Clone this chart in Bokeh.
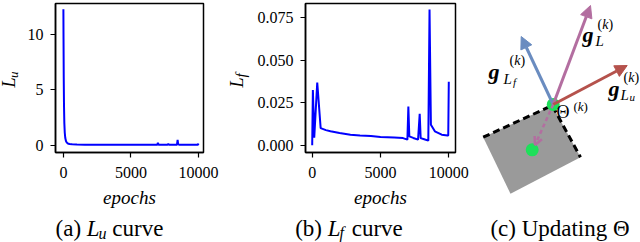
from math import pi
from bokeh.plotting import figure
from bokeh.layouts import row, column
from bokeh.models import Range1d, FixedTicker, Label, Arrow, NormalHead, OpenHead
from bokeh.embed import file_html
from bokeh.resources import INLINE

# ---------------- data ----------------
u_epochs = [0, 10, 25, 45, 70, 100, 140, 190, 250, 330, 450, 650, 1000, 1600, 2500,
            3500, 4500, 5500, 6500, 6950, 6990, 7040, 7700, 7760, 7820, 8400, 8450,
            8490, 8560, 9000, 9500, 9950, 10000]
u_loss = [12.3, 9.6, 6.2, 3.6, 2.0, 1.15, 0.65, 0.38, 0.24, 0.16, 0.11, 0.08, 0.06,
          0.05, 0.045, 0.04, 0.04, 0.035, 0.035, 0.035, 0.22, 0.05, 0.035, 0.12, 0.035,
          0.035, 0.48, 0.10, 0.045, 0.04, 0.04, 0.04, 0.15]

f_epochs = [0, 50, 150, 370, 620, 1000, 1340, 2000, 2800, 3500, 4300, 5000, 6000,
            6650, 6970, 7040, 7110, 7400, 7750, 7870, 7940, 8200, 8500, 8590, 8690,
            8980, 9480, 9920, 9960, 10000]
f_loss = [0.0, 0.0325, 0.0045, 0.0368, 0.0101, 0.0089, 0.0082, 0.0072, 0.0062, 0.0058,
          0.0054, 0.0049, 0.0045, 0.0042, 0.0033, 0.0228, 0.0052, 0.0043, 0.0033,
          0.0185, 0.0042, 0.0035, 0.0027, 0.0798, 0.0121, 0.0082, 0.0062, 0.0057,
          0.0058, 0.0374]

x_ticks = [0, 5000, 10000]
x_tick_labels = ["0", "5000", "10000"]
u_ticks = [0, 5, 10]
u_tick_labels = ["0", "5", "10"]
f_ticks = [0, 0.025, 0.05, 0.075]
f_tick_labels = ["0.000", "0.025", "0.050", "0.075"]
x_label = "epochs"

# schematic geometry of panel (c), page pixels
theta_pt = (552.7, 104.0)
next_pt = (531.7, 149.3)
dash_end = (534.5, 144.5)
tip_Lf = (520.7, 36.0)
tip_L = (590.0, 5.0)
tip_Lu = (626.7, 65.0)
rect_x = [482.7, 551.7, 580.0, 510.0]
rect_y = [136.7, 105.0, 156.7, 193.3]

BLUE = "#0000ff"
C_LF = "#6a8cc0"
C_L = "#b36ea0"
C_LU = "#b5524c"
GREEN = "#1ee05a"
GRAY = "#9a9a9a"
FONT = "Liberation Serif"

TOP_H, CAP_H = 210, 32
LA_W, FA_W, LB_W, FB_W, FC_W = 24, 198, 28, 220, 170
FB_X0 = LA_W + FA_W + LB_W          # 250
FC_X0 = FB_X0 + FB_W                # 470
H = TOP_H + CAP_H                   # 242
CAP_BASE = 233
BASE_SHIFT = 0.2                    # baseline correction, in em

ROMAN_W = {"(": .333, ")": .333, "a": .444, "b": .5, "c": .444, " ": .25, "u": .5,
           "r": .333, "v": .5, "e": .444, "U": .722, "p": .5, "d": .5, "t": .278,
           "i": .278, "n": .5, "g": .5, "Θ": .722}
ITAL_W = {"L": .556, "u": .5, "f": .278, "k": .444, "g": .5}


def adv(text, style, size):
    tbl = ITAL_W if "italic" in style else ROMAN_W
    return sum(tbl.get(ch, 0.5) for ch in text) * size


def lab(p, x, y, text, style="normal", size=16, angle=0):
    if angle:
        x -= BASE_SHIFT * size
    else:
        y -= BASE_SHIFT * size
    p.add_layout(Label(x=x, y=y, x_units="canvas", y_units="canvas", text=text,
                       text_font=FONT, text_font_style=style,
                       text_font_size=f"{size}px", text_color="black",
                       text_align="left", text_baseline="alphabetic", angle=angle))


def compose(p, x, y, pieces, center=False):
    total = sum(adv(t, s, z) + k for t, s, z, dy, k in pieces)
    cx = x - total / 2 if center else x
    for t, s, z, dy, k in pieces:
        lead = len(t) - len(t.lstrip(" "))
        body = t.strip(" ")
        if body:
            lab(p, cx + adv(" " * lead, s, z), y + dy, body, s, z)
        cx += adv(t, s, z) + k


def no_align(p):
    try:
        p.frame_align = False
    except Exception:
        pass


def blank(width, height):
    p = figure(width=width, height=height, output_backend="svg", toolbar_location=None,
               x_range=Range1d(0, width), y_range=Range1d(height, 0),
               x_axis_type=None, y_axis_type=None,
               min_border_left=0, min_border_right=0, min_border_top=0,
               min_border_bottom=0)
    p.grid.visible = False
    p.outline_line_color = None
    no_align(p)
    return p


def style_axes(p):
    no_align(p)
    p.grid.visible = False
    p.outline_line_color = "black"
    p.outline_line_width = 1.5
    for ax in (p.xaxis[0], p.yaxis[0]):
        ax.axis_line_color = "black"
        ax.axis_line_width = 1.5
        ax.major_tick_in = 0
        ax.major_tick_out = 5
        ax.major_tick_line_width = 1.2
        ax.major_tick_line_color = "black"
        ax.minor_tick_line_color = None
        ax.major_label_text_font = FONT
        ax.major_label_text_font_size = "16px"
        ax.major_label_text_color = "black"
        ax.major_label_standoff = 7
    p.xaxis.major_label_standoff = 9
    p.xaxis.ticker = FixedTicker(ticks=x_ticks)
    p.xaxis.major_label_overrides = dict(zip(x_ticks, x_tick_labels))
    p.xaxis.axis_label = x_label
    p.xaxis.axis_label_text_font = FONT
    p.xaxis.axis_label_text_font_style = "italic"
    p.xaxis.axis_label_text_font_size = "19px"
    p.xaxis.axis_label_text_color = "black"
    p.xaxis.axis_label_standoff = 6


# ---------------- panel (a) ----------------
la = blank(LA_W, TOP_H)
lab(la, 12.5, 87, "L", "italic", 18, pi / 2)
lab(la, 15.3, 77.5, "u", "italic", 13, pi / 2)

fa = figure(width=FA_W, height=TOP_H, output_backend="svg", toolbar_location=None,
            x_range=Range1d(-584, 10365), y_range=Range1d(-0.655, 12.81),
            min_border_left=29, min_border_right=19, min_border_top=3,
            min_border_bottom=57)
fa.line(u_epochs, u_loss, line_color=BLUE, line_width=2)
style_axes(fa)
fa.yaxis.ticker = FixedTicker(ticks=u_ticks)
fa.yaxis.major_label_overrides = dict(zip(u_ticks, u_tick_labels))

# ---------------- panel (b) ----------------
lb = blank(LB_W, TOP_H)
lab(lb, 18.5, 87, "L", "italic", 18, pi / 2)
lab(lb, 21.3, 77, "f", "italic", 15, pi / 2)

fb = figure(width=FB_W, height=TOP_H, output_backend="svg", toolbar_location=None,
            x_range=Range1d(-490, 10491), y_range=Range1d(-0.00426, 0.08335),
            min_border_left=55, min_border_right=15, min_border_top=3,
            min_border_bottom=57)
fb.line(f_epochs, f_loss, line_color=BLUE, line_width=2)
style_axes(fb)
fb.yaxis.ticker = FixedTicker(ticks=f_ticks)
fb.yaxis.major_label_overrides = dict(zip(f_ticks, f_tick_labels))

# captions of (a) and (b)
cap = blank(FC_X0, CAP_H)
cb = CAP_BASE - TOP_H
compose(cap, 109, cb, [("(a) ", "normal", 23, 0, 0), ("L", "italic", 23, 0, -1),
                       ("u", "italic", 16, 3, 0), (" curve", "normal", 23, 0, 0)],
        center=True)
compose(cap, 348.5, cb, [("(b) ", "normal", 23, 0, 0), ("L", "italic", 23, 0, -1),
                         ("f", "italic", 16, 2, 2), (" curve", "normal", 23, 0, 0)],
        center=True)

# ---------------- panel (c) ----------------
fc = blank(FC_W, H)


def cx(x):
    return x - FC_X0


fc.patch([cx(v) for v in rect_x], rect_y, fill_color=GRAY, line_color=None)
fc.line([cx(v) for v in rect_x[:3]], rect_y[:3],
        line_color="black", line_width=3, line_dash="7 4")
fc.scatter([cx(theta_pt[0]), cx(next_pt[0])], [theta_pt[1], next_pt[1]],
           size=13, fill_color=GREEN, line_color=None)

ox, oy = cx(theta_pt[0]), theta_pt[1]
for tip, col in ((tip_Lf, C_LF), (tip_L, C_L), (tip_Lu, C_LU)):
    fc.add_layout(Arrow(x_start=ox, y_start=oy, x_end=cx(tip[0]), y_end=tip[1],
                        line_color=col, line_width=3,
                        end=NormalHead(size=12, fill_color=col, line_color=col)))
fc.add_layout(Arrow(x_start=ox, y_start=oy, x_end=cx(dash_end[0]), y_end=dash_end[1],
                    line_color=C_L, line_width=2.5, line_dash="4 3",
                    end=OpenHead(size=8, line_color=C_L, line_width=2.5)))


def k_sup(p, x, y, size=14):
    compose(p, x, y, [("(", "normal", size, 0, 0), ("k", "italic", size, 0, 0),
                      (")", "normal", size, 0, 0)])


# g_{L_f}^{(k)}
lab(fc, cx(488), 75, "g", "bold italic", 22)
lab(fc, cx(503), 81, "L", "italic", 15)
lab(fc, cx(512.5), 84, "f", "italic", 11)
k_sup(fc, cx(509), 63)
# g_{L}^{(k)}
lab(fc, cx(582), 38, "g", "bold italic", 22)
lab(fc, cx(595), 43, "L", "italic", 15)
k_sup(fc, cx(597), 27)
# g_{L_u}^{(k)}
lab(fc, cx(608), 92, "g", "bold italic", 22)
lab(fc, cx(620), 97, "L", "italic", 15)
lab(fc, cx(629), 99, "u", "italic", 11)
k_sup(fc, cx(623), 80)
# Theta^{(k)}
lab(fc, cx(556), 115, "Θ", "normal", 18)
k_sup(fc, cx(573), 109, 13)

compose(fc, cx(559.5), CAP_BASE, [("(c) Updating ", "normal", 23, 0, 0),
                                  ("Θ", "normal", 23, 0, 0)], center=True)

layout = row(column(row(la, fa, lb, fb), cap), fc)
open("out.html", "w").write(file_html(layout, INLINE))
